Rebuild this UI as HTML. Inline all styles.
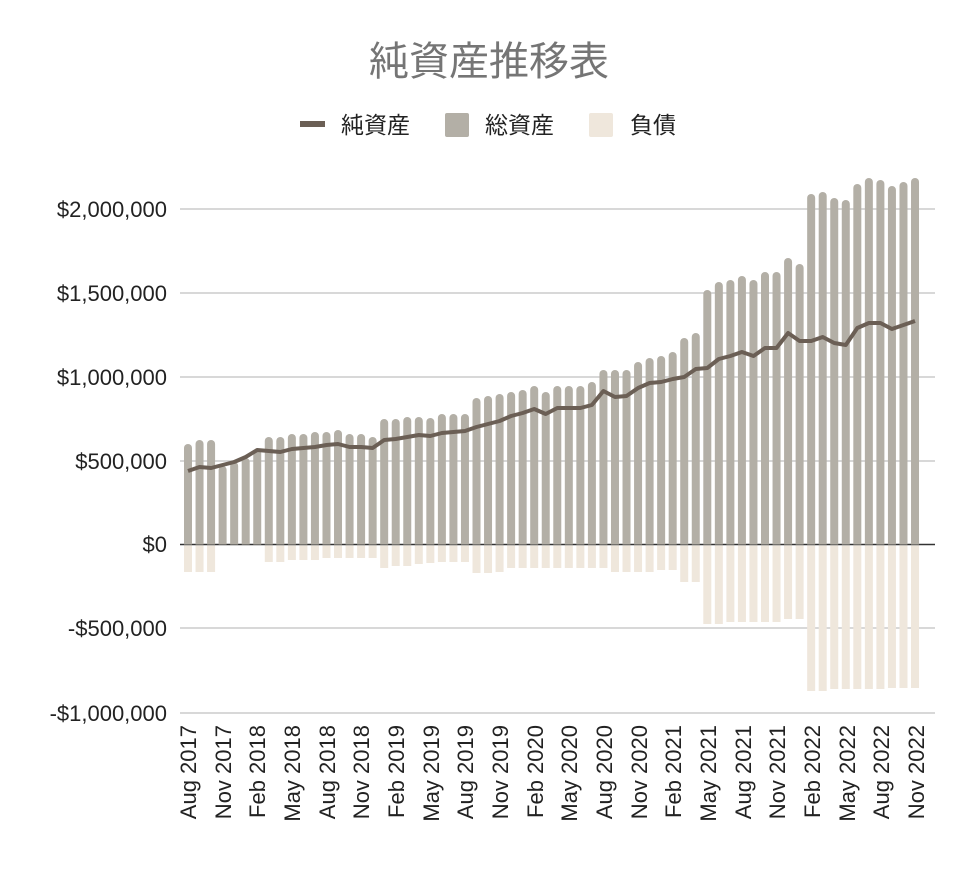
<!DOCTYPE html>
<html><head><meta charset="utf-8"><style>
body{margin:0;background:#fff}
svg{display:block}
text{font-family:"Liberation Sans","Noto Sans CJK JP",sans-serif}
</style></head><body>
<svg id="s" width="978" height="874" xmlns="http://www.w3.org/2000/svg">
<rect width="978" height="874" fill="#fff"/>
<text x="489" y="75" text-anchor="middle" font-size="40" fill="#757575">純資産推移表</text>
<rect x="300" y="121" width="25" height="6" fill="#6b5f55"/>
<text x="341" y="133" font-size="23" fill="#222">純資産</text>
<rect x="445" y="113" width="24" height="24" rx="2" fill="#b3afa6"/>
<text x="485" y="133" font-size="23" fill="#222">総資産</text>
<rect x="589" y="113" width="24" height="24" rx="2" fill="#efe7dc"/>
<text x="630" y="133" font-size="23" fill="#222">負債</text>
<g stroke="#cccccc" stroke-width="1.5">
<line x1="180" x2="935" y1="209" y2="209"/><line x1="180" x2="935" y1="293" y2="293"/>
<line x1="180" x2="935" y1="377" y2="377"/><line x1="180" x2="935" y1="461" y2="461"/>
<line x1="180" x2="935" y1="628" y2="628"/><line x1="180" x2="935" y1="713" y2="713"/>
</g>
<line x1="180" x2="935" y1="544.5" y2="544.5" stroke="#333" stroke-width="1.5"/>
<g font-size="22" fill="#222" text-anchor="end">
<text x="167" y="217">$2,000,000</text><text x="167" y="301">$1,500,000</text>
<text x="167" y="385">$1,000,000</text><text x="167" y="469">$500,000</text>
<text x="167" y="552">$0</text><text x="167" y="636">-$500,000</text>
<text x="167" y="721">-$1,000,000</text>
</g>
<g id="bars"></g>
<g font-size="22" fill="#222" text-anchor="end">
<text transform="translate(196,725) rotate(-90)">Aug 2017</text>
<text transform="translate(231,725) rotate(-90)">Nov 2017</text>
<text transform="translate(265,725) rotate(-90)">Feb 2018</text>
<text transform="translate(300,725) rotate(-90)">May 2018</text>
<text transform="translate(335,725) rotate(-90)">Aug 2018</text>
<text transform="translate(369,725) rotate(-90)">Nov 2018</text>
<text transform="translate(404,725) rotate(-90)">Feb 2019</text>
<text transform="translate(439,725) rotate(-90)">May 2019</text>
<text transform="translate(473,725) rotate(-90)">Aug 2019</text>
<text transform="translate(508,725) rotate(-90)">Nov 2019</text>
<text transform="translate(543,725) rotate(-90)">Feb 2020</text>
<text transform="translate(577,725) rotate(-90)">May 2020</text>
<text transform="translate(612,725) rotate(-90)">Aug 2020</text>
<text transform="translate(647,725) rotate(-90)">Nov 2020</text>
<text transform="translate(681,725) rotate(-90)">Feb 2021</text>
<text transform="translate(716,725) rotate(-90)">May 2021</text>
<text transform="translate(751,725) rotate(-90)">Aug 2021</text>
<text transform="translate(785,725) rotate(-90)">Nov 2021</text>
<text transform="translate(820,725) rotate(-90)">Feb 2022</text>
<text transform="translate(855,725) rotate(-90)">May 2022</text>
<text transform="translate(889,725) rotate(-90)">Aug 2022</text>
<text transform="translate(924,725) rotate(-90)">Nov 2022</text>
</g>
</svg>
<script>
var top_=[444,440,440,466,462,458,449,437,437,434,434,432,432,430,434,434,437,419,419,417,417,418,414,414,414,398,396,394,392,390,386,392,386,386,386,382,370,370,370,362,358,356,352,338,333,290,282,280,276,280,272,272,258,264,194,192,198,200,184,178,180,186,182,178];
var liab=[572,572,572,544,544,544,544,562,562,560,560,560,558,558,558,558,558,568,566,566,564,563,562,562,562,573,573,572,568,568,568,568,568,568,568,568,568,572,572,572,572,570,570,582,582,624,624,622,622,622,622,622,619,619,691,691,689,689,689,689,689,688,688,688];
var line=[471,467,468,465,462,457,450,451,452,449,448,447,445,444,447,447,448,440,439,437,435,436,433,432,431,427,424,421,416,413,409,414,408,408,408,405,391,397,396,388,383,382,379,377,369,368,359,356,352,356,348,348,333,341,341,337,343,345,328,323,323,329,325,321];
var g=document.getElementById("bars"),h="",pts=[];
for(var i=0;i<64;i++){var cx=188+i*11.54,x=cx-4,t=top_[i];
h+='<path d="M'+x+' 544.5 V'+(t+4)+' a4 4 0 0 1 8 0 V544.5 Z" fill="#b3afa6"/>';
if(liab[i]>546)h+='<rect x="'+x+'" y="545.5" width="8" height="'+(liab[i]-545.5)+'" fill="#efe7dc"/>';
pts.push(cx.toFixed(1)+','+line[i]);}
h+='<polyline points="'+pts.join(' ')+'" fill="none" stroke="#6b5f55" stroke-width="4" stroke-linejoin="round"/>';
g.innerHTML=h;
</script>
</body></html>
